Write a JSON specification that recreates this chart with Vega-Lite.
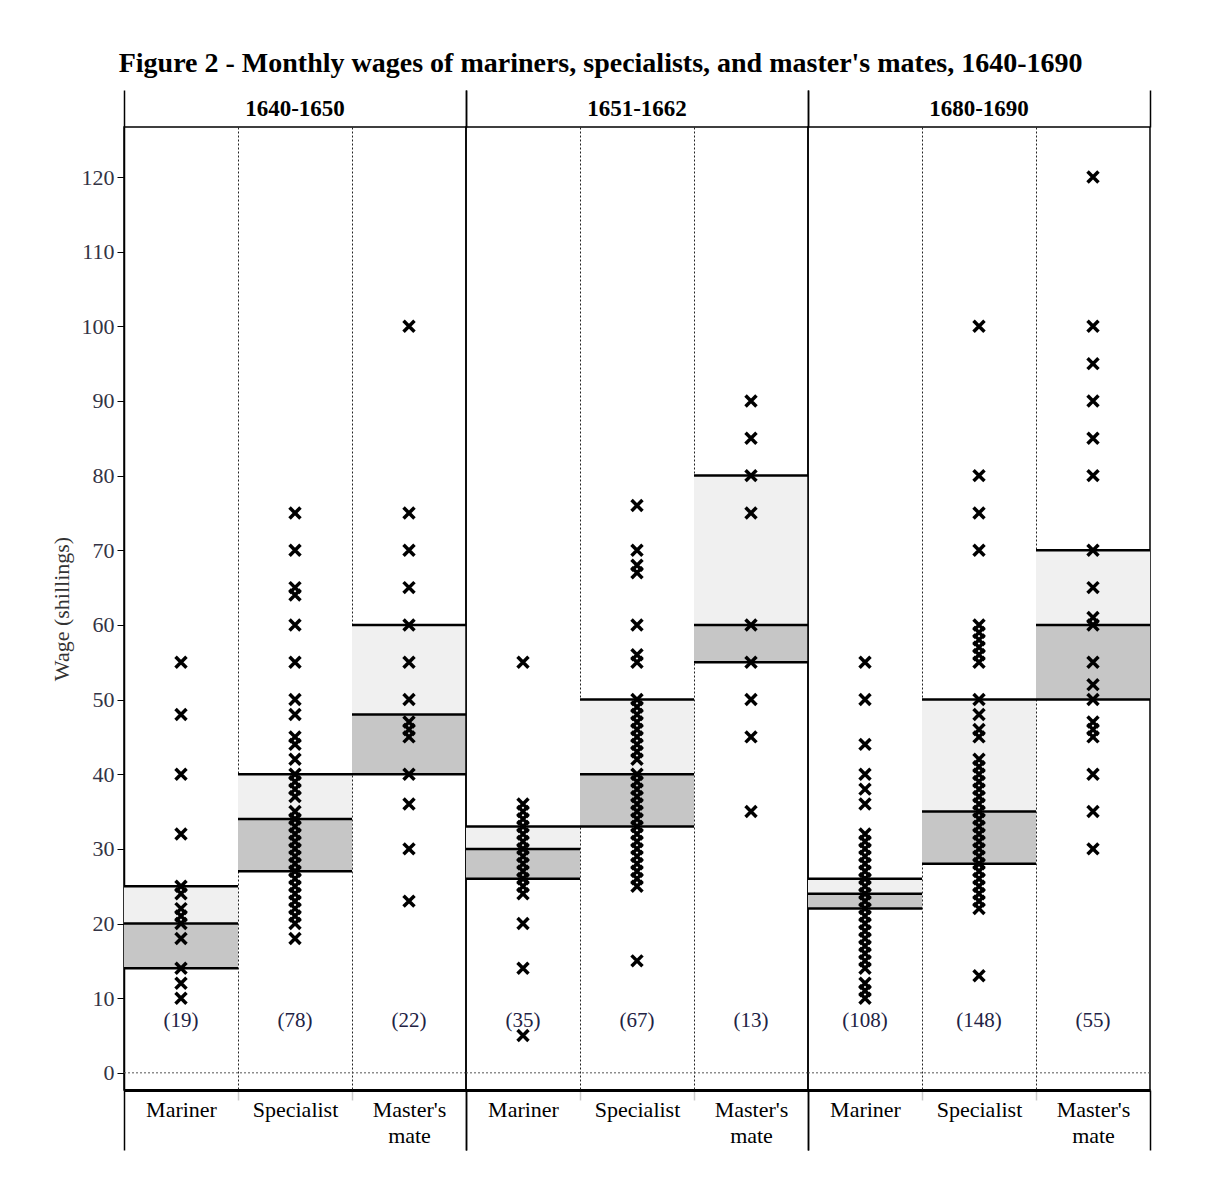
{
  "$schema": "https://vega.github.io/schema/vega-lite/v6.json",
  "background": "white",
  "padding": {"left": 50, "top": 50, "right": 20, "bottom": 20},
  "bounds": "flush",
  "title": {"text": "Figure 2 - Monthly wages of mariners, specialists, and master's mates, 1640-1690", "font": "Liberation Serif", "fontSize": 28, "fontWeight": "bold", "color": "black", "anchor": "middle", "offset": 11},
  "datasets": {
    "all": [
      {"period": "1640-1650", "category": "Mariner", "q1": 14, "median": 20, "q3": 25, "label": "(19)"},
      {"period": "1640-1650", "category": "Specialist", "q1": 27, "median": 34, "q3": 40, "label": "(78)"},
      {"period": "1640-1650", "category": "Master's mate", "q1": 40, "median": 48, "q3": 60, "label": "(22)"},
      {"period": "1651-1662", "category": "Mariner", "q1": 26, "median": 30, "q3": 33, "label": "(35)"},
      {"period": "1651-1662", "category": "Specialist", "q1": 33, "median": 40, "q3": 50, "label": "(67)"},
      {"period": "1651-1662", "category": "Master's mate", "q1": 55, "median": 60, "q3": 80, "label": "(13)"},
      {"period": "1680-1690", "category": "Mariner", "q1": 22, "median": 24, "q3": 26, "label": "(108)"},
      {"period": "1680-1690", "category": "Specialist", "q1": 28, "median": 35, "q3": 50, "label": "(148)"},
      {"period": "1680-1690", "category": "Master's mate", "q1": 50, "median": 60, "q3": 70, "label": "(55)"},
      {"period": "1640-1650", "category": "Mariner", "wage": 55},
      {"period": "1640-1650", "category": "Mariner", "wage": 48},
      {"period": "1640-1650", "category": "Mariner", "wage": 40},
      {"period": "1640-1650", "category": "Mariner", "wage": 32},
      {"period": "1640-1650", "category": "Mariner", "wage": 25},
      {"period": "1640-1650", "category": "Mariner", "wage": 24},
      {"period": "1640-1650", "category": "Mariner", "wage": 22},
      {"period": "1640-1650", "category": "Mariner", "wage": 21},
      {"period": "1640-1650", "category": "Mariner", "wage": 20},
      {"period": "1640-1650", "category": "Mariner", "wage": 18},
      {"period": "1640-1650", "category": "Mariner", "wage": 14},
      {"period": "1640-1650", "category": "Mariner", "wage": 12},
      {"period": "1640-1650", "category": "Mariner", "wage": 10},
      {"period": "1640-1650", "category": "Specialist", "wage": 75},
      {"period": "1640-1650", "category": "Specialist", "wage": 70},
      {"period": "1640-1650", "category": "Specialist", "wage": 65},
      {"period": "1640-1650", "category": "Specialist", "wage": 64},
      {"period": "1640-1650", "category": "Specialist", "wage": 60},
      {"period": "1640-1650", "category": "Specialist", "wage": 55},
      {"period": "1640-1650", "category": "Specialist", "wage": 50},
      {"period": "1640-1650", "category": "Specialist", "wage": 48},
      {"period": "1640-1650", "category": "Specialist", "wage": 45},
      {"period": "1640-1650", "category": "Specialist", "wage": 44},
      {"period": "1640-1650", "category": "Specialist", "wage": 42},
      {"period": "1640-1650", "category": "Specialist", "wage": 40},
      {"period": "1640-1650", "category": "Specialist", "wage": 39},
      {"period": "1640-1650", "category": "Specialist", "wage": 38},
      {"period": "1640-1650", "category": "Specialist", "wage": 37},
      {"period": "1640-1650", "category": "Specialist", "wage": 35},
      {"period": "1640-1650", "category": "Specialist", "wage": 34},
      {"period": "1640-1650", "category": "Specialist", "wage": 33},
      {"period": "1640-1650", "category": "Specialist", "wage": 32},
      {"period": "1640-1650", "category": "Specialist", "wage": 31},
      {"period": "1640-1650", "category": "Specialist", "wage": 30},
      {"period": "1640-1650", "category": "Specialist", "wage": 29},
      {"period": "1640-1650", "category": "Specialist", "wage": 28},
      {"period": "1640-1650", "category": "Specialist", "wage": 27},
      {"period": "1640-1650", "category": "Specialist", "wage": 26},
      {"period": "1640-1650", "category": "Specialist", "wage": 25},
      {"period": "1640-1650", "category": "Specialist", "wage": 24},
      {"period": "1640-1650", "category": "Specialist", "wage": 23},
      {"period": "1640-1650", "category": "Specialist", "wage": 22},
      {"period": "1640-1650", "category": "Specialist", "wage": 21},
      {"period": "1640-1650", "category": "Specialist", "wage": 20},
      {"period": "1640-1650", "category": "Specialist", "wage": 18},
      {"period": "1640-1650", "category": "Master's mate", "wage": 100},
      {"period": "1640-1650", "category": "Master's mate", "wage": 75},
      {"period": "1640-1650", "category": "Master's mate", "wage": 70},
      {"period": "1640-1650", "category": "Master's mate", "wage": 65},
      {"period": "1640-1650", "category": "Master's mate", "wage": 60},
      {"period": "1640-1650", "category": "Master's mate", "wage": 55},
      {"period": "1640-1650", "category": "Master's mate", "wage": 50},
      {"period": "1640-1650", "category": "Master's mate", "wage": 47},
      {"period": "1640-1650", "category": "Master's mate", "wage": 46},
      {"period": "1640-1650", "category": "Master's mate", "wage": 45},
      {"period": "1640-1650", "category": "Master's mate", "wage": 40},
      {"period": "1640-1650", "category": "Master's mate", "wage": 36},
      {"period": "1640-1650", "category": "Master's mate", "wage": 30},
      {"period": "1640-1650", "category": "Master's mate", "wage": 23},
      {"period": "1651-1662", "category": "Mariner", "wage": 55},
      {"period": "1651-1662", "category": "Mariner", "wage": 36},
      {"period": "1651-1662", "category": "Mariner", "wage": 35},
      {"period": "1651-1662", "category": "Mariner", "wage": 34},
      {"period": "1651-1662", "category": "Mariner", "wage": 33},
      {"period": "1651-1662", "category": "Mariner", "wage": 32},
      {"period": "1651-1662", "category": "Mariner", "wage": 31},
      {"period": "1651-1662", "category": "Mariner", "wage": 30},
      {"period": "1651-1662", "category": "Mariner", "wage": 29},
      {"period": "1651-1662", "category": "Mariner", "wage": 28},
      {"period": "1651-1662", "category": "Mariner", "wage": 27},
      {"period": "1651-1662", "category": "Mariner", "wage": 26},
      {"period": "1651-1662", "category": "Mariner", "wage": 25},
      {"period": "1651-1662", "category": "Mariner", "wage": 24},
      {"period": "1651-1662", "category": "Mariner", "wage": 20},
      {"period": "1651-1662", "category": "Mariner", "wage": 14},
      {"period": "1651-1662", "category": "Mariner", "wage": 5},
      {"period": "1651-1662", "category": "Specialist", "wage": 76},
      {"period": "1651-1662", "category": "Specialist", "wage": 70},
      {"period": "1651-1662", "category": "Specialist", "wage": 68},
      {"period": "1651-1662", "category": "Specialist", "wage": 67},
      {"period": "1651-1662", "category": "Specialist", "wage": 60},
      {"period": "1651-1662", "category": "Specialist", "wage": 56},
      {"period": "1651-1662", "category": "Specialist", "wage": 55},
      {"period": "1651-1662", "category": "Specialist", "wage": 50},
      {"period": "1651-1662", "category": "Specialist", "wage": 49},
      {"period": "1651-1662", "category": "Specialist", "wage": 48},
      {"period": "1651-1662", "category": "Specialist", "wage": 47},
      {"period": "1651-1662", "category": "Specialist", "wage": 46},
      {"period": "1651-1662", "category": "Specialist", "wage": 45},
      {"period": "1651-1662", "category": "Specialist", "wage": 44},
      {"period": "1651-1662", "category": "Specialist", "wage": 43},
      {"period": "1651-1662", "category": "Specialist", "wage": 42},
      {"period": "1651-1662", "category": "Specialist", "wage": 40},
      {"period": "1651-1662", "category": "Specialist", "wage": 39},
      {"period": "1651-1662", "category": "Specialist", "wage": 38},
      {"period": "1651-1662", "category": "Specialist", "wage": 37},
      {"period": "1651-1662", "category": "Specialist", "wage": 36},
      {"period": "1651-1662", "category": "Specialist", "wage": 35},
      {"period": "1651-1662", "category": "Specialist", "wage": 34},
      {"period": "1651-1662", "category": "Specialist", "wage": 33},
      {"period": "1651-1662", "category": "Specialist", "wage": 32},
      {"period": "1651-1662", "category": "Specialist", "wage": 31},
      {"period": "1651-1662", "category": "Specialist", "wage": 30},
      {"period": "1651-1662", "category": "Specialist", "wage": 29},
      {"period": "1651-1662", "category": "Specialist", "wage": 28},
      {"period": "1651-1662", "category": "Specialist", "wage": 27},
      {"period": "1651-1662", "category": "Specialist", "wage": 26},
      {"period": "1651-1662", "category": "Specialist", "wage": 25},
      {"period": "1651-1662", "category": "Specialist", "wage": 15},
      {"period": "1651-1662", "category": "Master's mate", "wage": 90},
      {"period": "1651-1662", "category": "Master's mate", "wage": 85},
      {"period": "1651-1662", "category": "Master's mate", "wage": 80},
      {"period": "1651-1662", "category": "Master's mate", "wage": 75},
      {"period": "1651-1662", "category": "Master's mate", "wage": 60},
      {"period": "1651-1662", "category": "Master's mate", "wage": 55},
      {"period": "1651-1662", "category": "Master's mate", "wage": 50},
      {"period": "1651-1662", "category": "Master's mate", "wage": 45},
      {"period": "1651-1662", "category": "Master's mate", "wage": 35},
      {"period": "1680-1690", "category": "Mariner", "wage": 55},
      {"period": "1680-1690", "category": "Mariner", "wage": 50},
      {"period": "1680-1690", "category": "Mariner", "wage": 44},
      {"period": "1680-1690", "category": "Mariner", "wage": 40},
      {"period": "1680-1690", "category": "Mariner", "wage": 38},
      {"period": "1680-1690", "category": "Mariner", "wage": 36},
      {"period": "1680-1690", "category": "Mariner", "wage": 32},
      {"period": "1680-1690", "category": "Mariner", "wage": 31},
      {"period": "1680-1690", "category": "Mariner", "wage": 30},
      {"period": "1680-1690", "category": "Mariner", "wage": 29},
      {"period": "1680-1690", "category": "Mariner", "wage": 28},
      {"period": "1680-1690", "category": "Mariner", "wage": 27},
      {"period": "1680-1690", "category": "Mariner", "wage": 26},
      {"period": "1680-1690", "category": "Mariner", "wage": 25},
      {"period": "1680-1690", "category": "Mariner", "wage": 24},
      {"period": "1680-1690", "category": "Mariner", "wage": 23},
      {"period": "1680-1690", "category": "Mariner", "wage": 22},
      {"period": "1680-1690", "category": "Mariner", "wage": 21},
      {"period": "1680-1690", "category": "Mariner", "wage": 20},
      {"period": "1680-1690", "category": "Mariner", "wage": 19},
      {"period": "1680-1690", "category": "Mariner", "wage": 18},
      {"period": "1680-1690", "category": "Mariner", "wage": 17},
      {"period": "1680-1690", "category": "Mariner", "wage": 16},
      {"period": "1680-1690", "category": "Mariner", "wage": 15},
      {"period": "1680-1690", "category": "Mariner", "wage": 14},
      {"period": "1680-1690", "category": "Mariner", "wage": 12},
      {"period": "1680-1690", "category": "Mariner", "wage": 11},
      {"period": "1680-1690", "category": "Mariner", "wage": 10},
      {"period": "1680-1690", "category": "Specialist", "wage": 100},
      {"period": "1680-1690", "category": "Specialist", "wage": 80},
      {"period": "1680-1690", "category": "Specialist", "wage": 75},
      {"period": "1680-1690", "category": "Specialist", "wage": 70},
      {"period": "1680-1690", "category": "Specialist", "wage": 60},
      {"period": "1680-1690", "category": "Specialist", "wage": 59},
      {"period": "1680-1690", "category": "Specialist", "wage": 58},
      {"period": "1680-1690", "category": "Specialist", "wage": 57},
      {"period": "1680-1690", "category": "Specialist", "wage": 56},
      {"period": "1680-1690", "category": "Specialist", "wage": 55},
      {"period": "1680-1690", "category": "Specialist", "wage": 50},
      {"period": "1680-1690", "category": "Specialist", "wage": 48},
      {"period": "1680-1690", "category": "Specialist", "wage": 46},
      {"period": "1680-1690", "category": "Specialist", "wage": 45},
      {"period": "1680-1690", "category": "Specialist", "wage": 42},
      {"period": "1680-1690", "category": "Specialist", "wage": 41},
      {"period": "1680-1690", "category": "Specialist", "wage": 40},
      {"period": "1680-1690", "category": "Specialist", "wage": 39},
      {"period": "1680-1690", "category": "Specialist", "wage": 38},
      {"period": "1680-1690", "category": "Specialist", "wage": 37},
      {"period": "1680-1690", "category": "Specialist", "wage": 36},
      {"period": "1680-1690", "category": "Specialist", "wage": 35},
      {"period": "1680-1690", "category": "Specialist", "wage": 34},
      {"period": "1680-1690", "category": "Specialist", "wage": 33},
      {"period": "1680-1690", "category": "Specialist", "wage": 32},
      {"period": "1680-1690", "category": "Specialist", "wage": 31},
      {"period": "1680-1690", "category": "Specialist", "wage": 30},
      {"period": "1680-1690", "category": "Specialist", "wage": 29},
      {"period": "1680-1690", "category": "Specialist", "wage": 28},
      {"period": "1680-1690", "category": "Specialist", "wage": 27},
      {"period": "1680-1690", "category": "Specialist", "wage": 26},
      {"period": "1680-1690", "category": "Specialist", "wage": 25},
      {"period": "1680-1690", "category": "Specialist", "wage": 24},
      {"period": "1680-1690", "category": "Specialist", "wage": 23},
      {"period": "1680-1690", "category": "Specialist", "wage": 22},
      {"period": "1680-1690", "category": "Specialist", "wage": 13},
      {"period": "1680-1690", "category": "Master's mate", "wage": 120},
      {"period": "1680-1690", "category": "Master's mate", "wage": 100},
      {"period": "1680-1690", "category": "Master's mate", "wage": 95},
      {"period": "1680-1690", "category": "Master's mate", "wage": 90},
      {"period": "1680-1690", "category": "Master's mate", "wage": 85},
      {"period": "1680-1690", "category": "Master's mate", "wage": 80},
      {"period": "1680-1690", "category": "Master's mate", "wage": 70},
      {"period": "1680-1690", "category": "Master's mate", "wage": 65},
      {"period": "1680-1690", "category": "Master's mate", "wage": 61},
      {"period": "1680-1690", "category": "Master's mate", "wage": 60},
      {"period": "1680-1690", "category": "Master's mate", "wage": 55},
      {"period": "1680-1690", "category": "Master's mate", "wage": 52},
      {"period": "1680-1690", "category": "Master's mate", "wage": 50},
      {"period": "1680-1690", "category": "Master's mate", "wage": 47},
      {"period": "1680-1690", "category": "Master's mate", "wage": 46},
      {"period": "1680-1690", "category": "Master's mate", "wage": 45},
      {"period": "1680-1690", "category": "Master's mate", "wage": 40},
      {"period": "1680-1690", "category": "Master's mate", "wage": 35},
      {"period": "1680-1690", "category": "Master's mate", "wage": 30}
    ]
  },
  "data": {"name": "all"},
  "facet": {
    "column": {
      "field": "period", "type": "nominal",
      "header": {"title": null, "labelFont": "Liberation Serif", "labelFontSize": 23, "labelFontWeight": "bold", "labelColor": "black", "labelPadding": -32}
    }
  },
  "spacing": 0,
  "spec": {
    "width": 342,
    "height": 963,
    "resolve": {"axis": {"x": "independent"}},
    "layer": [
      {
        "transform": [{"filter": "isValid(datum.q1)"}],
        "mark": {"type": "bar", "color": "#f0f0f0"},
        "encoding": {
          "x": {
            "field": "category", "type": "nominal",
            "scale": {"domain": ["Mariner", "Specialist", "Master's mate"], "paddingInner": 0, "paddingOuter": 0},
            "axis": {
              "orient": "bottom", "title": null, "tickBand": "extent",
              "domainColor": "black", "domainWidth": 3,
              "labelFont": "Liberation Serif", "labelFontSize": 22, "labelColor": "black", "labelAngle": 0,
              "labelExpr": "split(datum.label, ' ')", "labelLineHeight": 26,
              "labelPadding": {"condition": {"test": "datum.value == \"Master's mate\"", "value": -51}, "value": -1},
              "labelOverlap": false, "labelBound": false,
              "tickColor": {"condition": {"test": "datum.value == 'Mariner' || datum.value == 'Specialist'", "value": "#cccccc"}, "value": "black"},
              "tickSize": {"condition": {"test": "datum.value == 'Mariner' || datum.value == 'Specialist'", "value": 10}, "value": 60},
              "tickWidth": 1.5,
              "grid": true,
              "gridColor": {"condition": {"test": "datum.value == 'Mariner' || datum.value == 'Specialist'", "value": "#222222"}, "value": "transparent"},
              "gridDash": [2, 2], "gridWidth": 1
            }
          },
          "y": {
            "field": "median", "type": "quantitative", "title": "Wage (shillings)",
            "scale": {"domain": [-2.3, 126.7], "nice": false, "zero": false},
            "axis": {"values": [0, 10, 20, 30, 40, 50, 60, 70, 80, 90, 100, 110, 120]}
          },
          "y2": {"field": "q3"}
        }
      },
      {
        "transform": [{"filter": "isValid(datum.q1)"}],
        "mark": {"type": "bar", "color": "#c6c6c6"},
        "encoding": {
          "x": {
            "field": "category", "type": "nominal",
            "scale": {"domain": ["Mariner", "Specialist", "Master's mate"], "paddingInner": 0, "paddingOuter": 0},
            "axis": {
              "orient": "top", "title": null, "tickBand": "extent", "labels": false, "domain": false, "grid": false,
              "tickColor": {"condition": {"test": "datum.value == 'Mariner' || datum.value == 'Specialist'", "value": "transparent"}, "value": "black"},
              "tickSize": 37, "tickWidth": 1.5
            }
          },
          "y": {"field": "q1", "type": "quantitative", "title": "Wage (shillings)"},
          "y2": {"field": "median"}
        }
      },
      {
        "transform": [{"filter": "isValid(datum.q1) && datum.category == 'Mariner'"}],
        "mark": {"type": "rule", "strokeDash": [2, 2], "color": "#555555", "strokeWidth": 1},
        "encoding": {"y": {"datum": 0, "type": "quantitative", "title": "Wage (shillings)"}}
      },
      {
        "transform": [{"filter": "isValid(datum.q1)"}],
        "mark": {"type": "tick", "orient": "horizontal", "size": 114, "thickness": 2.5, "color": "black", "opacity": 1},
        "encoding": {
          "x": {"field": "category", "type": "nominal", "axis": null},
          "y": {"field": "q1", "type": "quantitative", "title": "Wage (shillings)"}
        }
      },
      {
        "transform": [{"filter": "isValid(datum.q1)"}],
        "mark": {"type": "tick", "orient": "horizontal", "size": 114, "thickness": 2.5, "color": "black", "opacity": 1},
        "encoding": {
          "x": {"field": "category", "type": "nominal", "axis": null},
          "y": {"field": "median", "type": "quantitative", "title": "Wage (shillings)"}
        }
      },
      {
        "transform": [{"filter": "isValid(datum.q1)"}],
        "mark": {"type": "tick", "orient": "horizontal", "size": 114, "thickness": 2.5, "color": "black", "opacity": 1},
        "encoding": {
          "x": {"field": "category", "type": "nominal", "axis": null},
          "y": {"field": "q3", "type": "quantitative", "title": "Wage (shillings)"}
        }
      },
      {
        "transform": [{"filter": "isValid(datum.wage)"}],
        "mark": {"type": "point", "shape": "M-1,-1L1,1M1,-1L-1,1", "filled": false, "stroke": "black", "strokeWidth": 3.5, "size": 120, "opacity": 1},
        "encoding": {
          "x": {"field": "category", "type": "nominal", "axis": null},
          "y": {"field": "wage", "type": "quantitative", "title": "Wage (shillings)"}
        }
      },
      {
        "transform": [{"filter": "isValid(datum.q1)"}],
        "mark": {"type": "text", "font": "Liberation Serif", "fontSize": 21, "color": "#222244", "baseline": "middle"},
        "encoding": {
          "x": {"field": "category", "type": "nominal", "axis": null},
          "y": {"datum": 7.0, "type": "quantitative", "title": "Wage (shillings)"},
          "text": {"field": "label"}
        }
      }
    ]
  },
  "config": {
    "view": {"stroke": "black", "strokeWidth": 1.5},
    "axisY": {
      "grid": false, "domainColor": "black", "domainWidth": 1.5, "tickColor": "black", "tickSize": 7,
      "labelFont": "Liberation Serif", "labelFontSize": 22, "labelColor": "#333344", "labelPadding": 3,
      "titleFont": "Liberation Serif", "titleFontSize": 22, "titleFontWeight": "normal", "titleColor": "#333333", "titlePadding": 8
    }
  }
}
